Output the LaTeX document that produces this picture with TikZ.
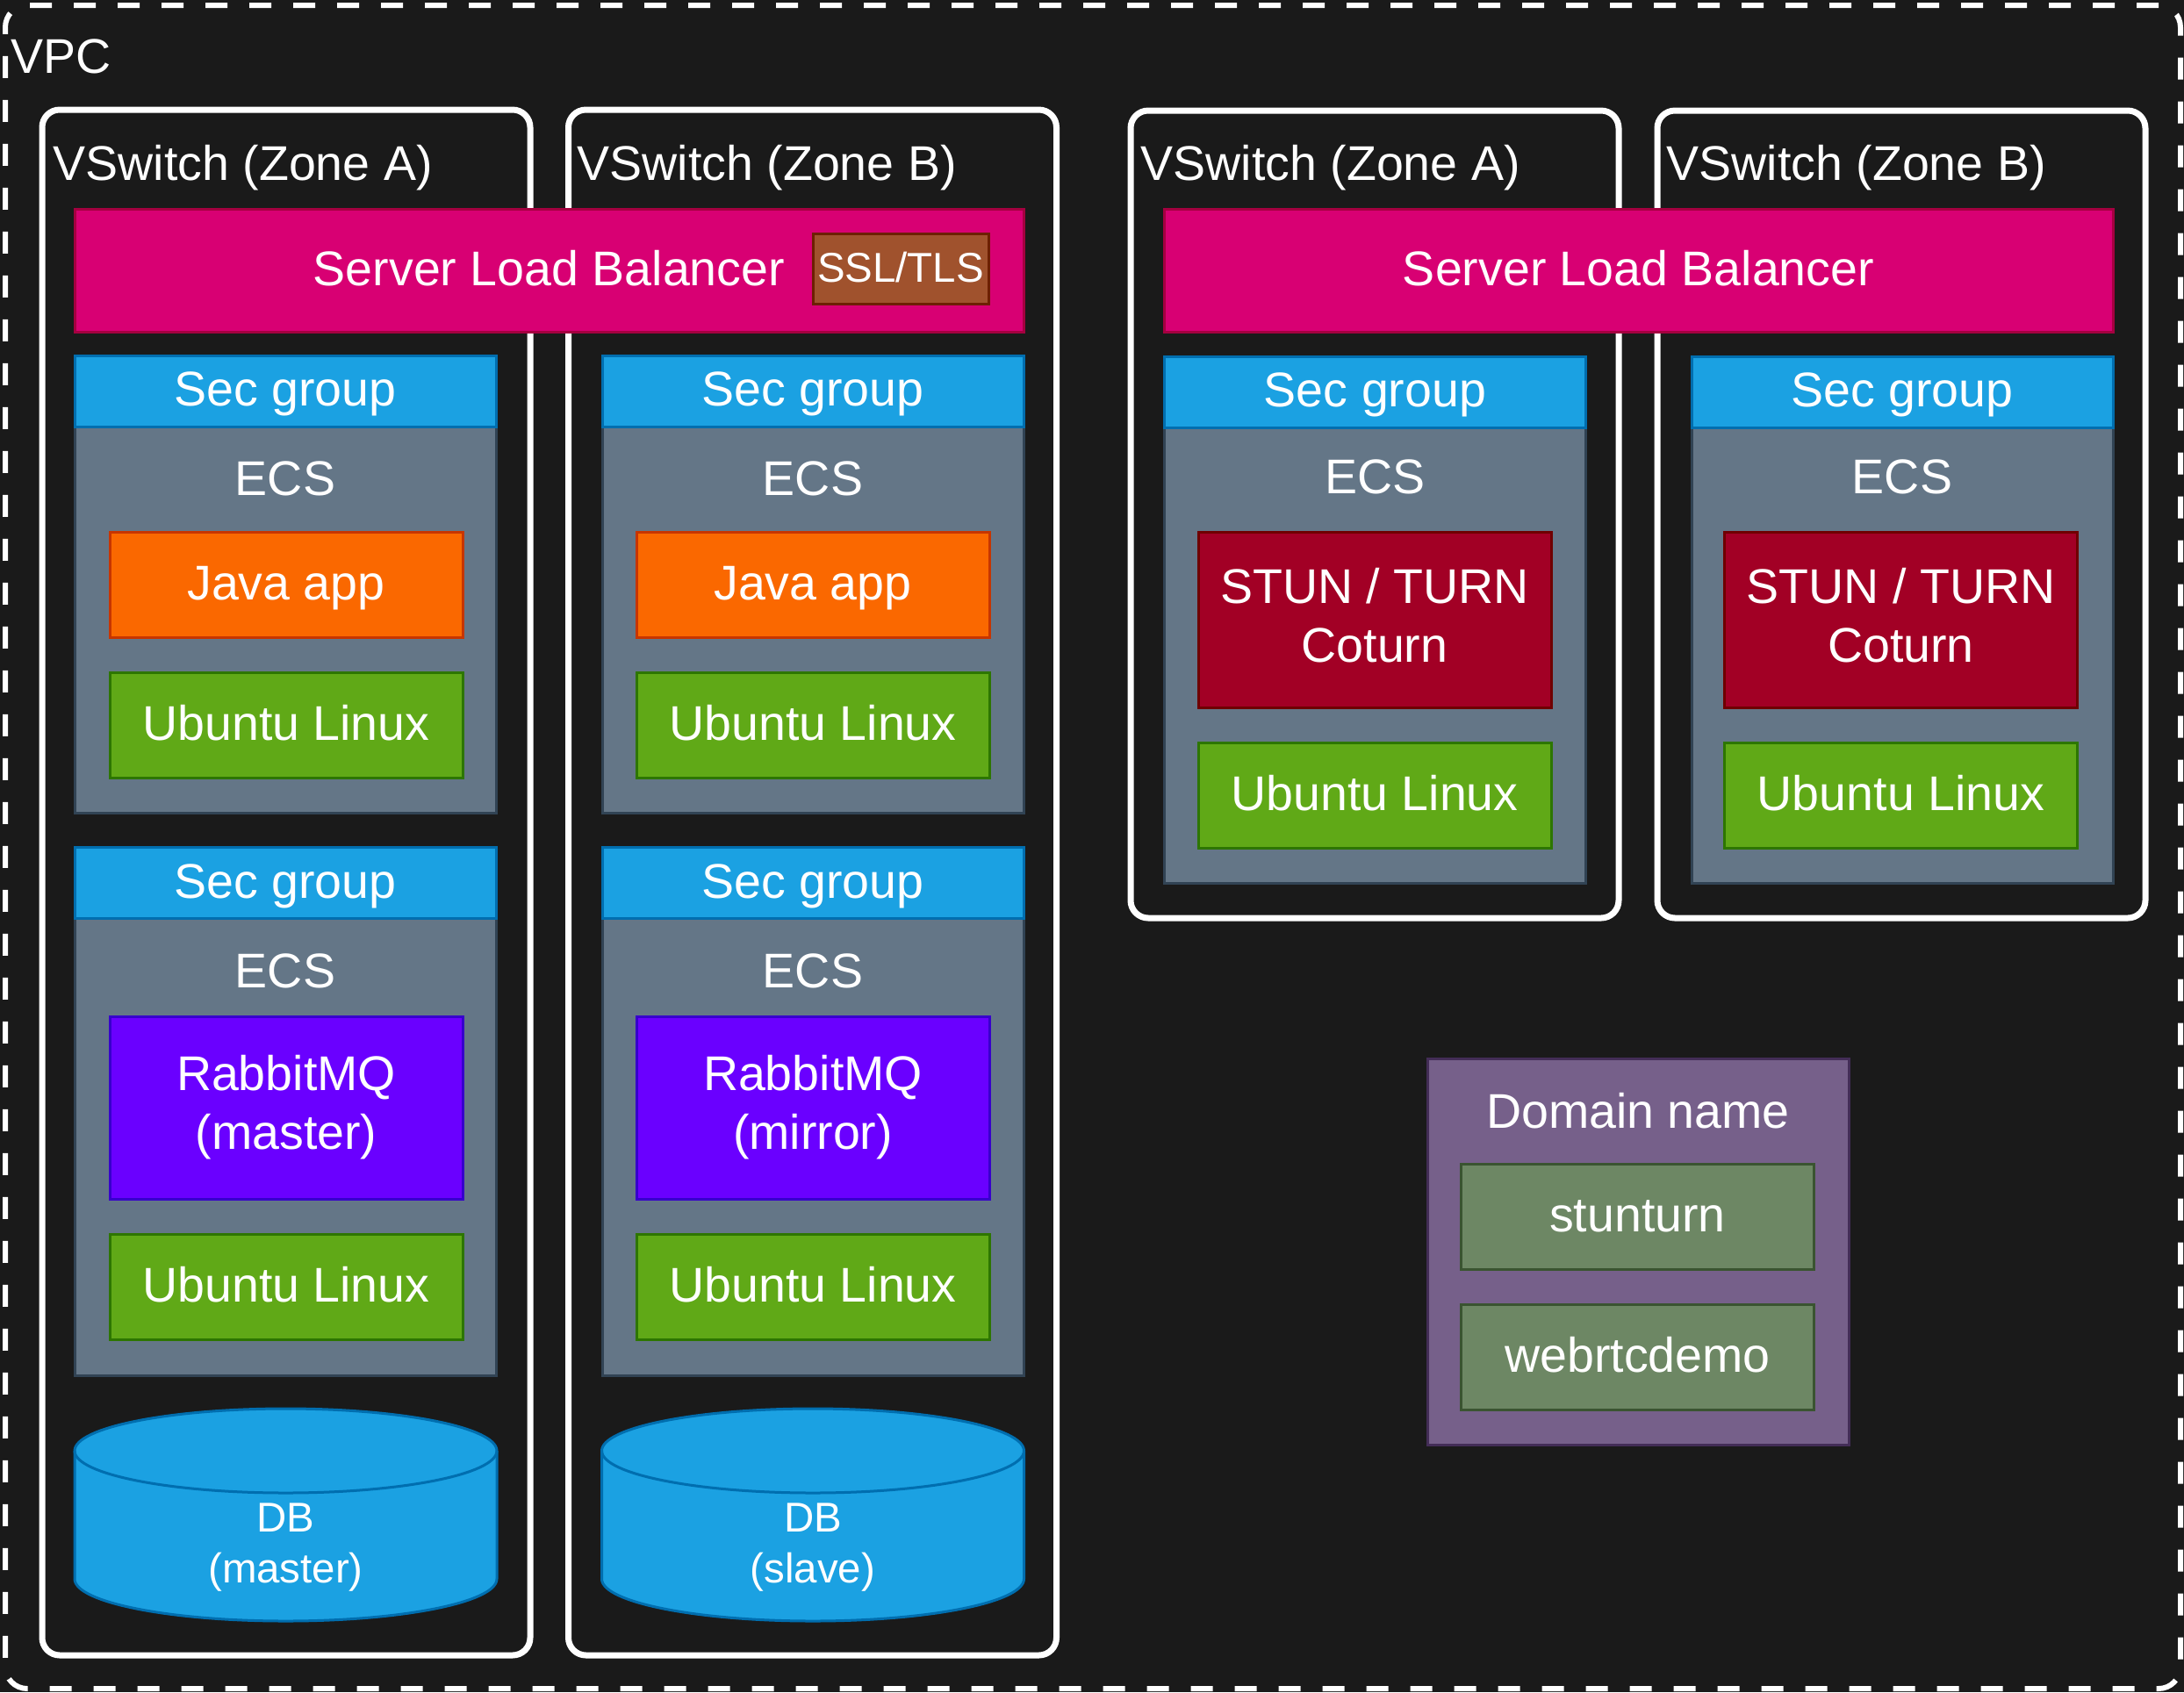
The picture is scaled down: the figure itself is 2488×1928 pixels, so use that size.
\documentclass[tikz,border=0pt]{standalone}
\usepackage{fontspec}
\setmainfont{Liberation Sans}

\definecolor{bgdark}{HTML}{1A1A1A}
\definecolor{slbfill}{HTML}{D80073}
\definecolor{slbline}{HTML}{A50040}
\definecolor{sslfill}{HTML}{A0522D}
\definecolor{sslline}{HTML}{6D1F00}
\definecolor{secfill}{HTML}{1BA1E2}
\definecolor{secline}{HTML}{006EAF}
\definecolor{ecsfill}{HTML}{647687}
\definecolor{ecsline}{HTML}{314354}
\definecolor{javafill}{HTML}{FA6800}
\definecolor{javaline}{HTML}{C73500}
\definecolor{osfill}{HTML}{60A917}
\definecolor{osline}{HTML}{2D7600}
\definecolor{mqfill}{HTML}{6A00FF}
\definecolor{mqline}{HTML}{3700CC}
\definecolor{turnfill}{HTML}{A20025}
\definecolor{turnline}{HTML}{6F0000}
\definecolor{dnsfill}{HTML}{76608A}
\definecolor{dnsline}{HTML}{432D57}
\definecolor{recfill}{HTML}{6D8764}
\definecolor{recline}{HTML}{3A5431}

\begin{document}
\begin{tikzpicture}[x=0.1mm, y=-0.1mm,
    every node/.style={text=white, inner sep=0pt, font=\fontsize{15.8}{19.1}\selectfont},
    caption/.style={text height=5.1mm, text depth=1.1mm},
    boxtext/.style={text height=5.1mm, text depth=1.7mm},
    small/.style={font=\fontsize{13.5}{16.7}\selectfont},
    zone/.style={rectangle, rounded corners=2mm, draw=white, line width=0.7mm, fill=bgdark, minimum width=55.6mm},
    slb/.style={rectangle, draw=slbline, fill=slbfill, line width=0.3mm, minimum width=108.1mm, minimum height=14mm, boxtext},
    secgroup/.style={rectangle, draw=secline, fill=secfill, line width=0.3mm, minimum width=48mm, minimum height=8.1mm, boxtext},
    ecs/.style={rectangle, draw=ecsline, fill=ecsfill, line width=0.3mm, minimum width=48mm},
    block/.style={rectangle, line width=0.3mm, minimum width=40.2mm},
    java/.style={block, draw=javaline, fill=javafill, minimum height=12mm, boxtext},
    os/.style={block, draw=osline, fill=osfill, minimum height=12mm, boxtext},
    mq/.style={block, draw=mqline, fill=mqfill, minimum height=20.8mm, align=center},
    turn/.style={block, draw=turnline, fill=turnfill, minimum height=20mm, align=center, text depth=1mm},
    record/.style={block, draw=recline, fill=recfill, minimum height=12mm, boxtext},
    db/.style={draw=secline, fill=secfill, line width=0.3mm}]

\path[use as bounding box, fill=bgdark] (0,0) rectangle (2488,1928);

% VPC
\node (vpc) at (1245,965) [rectangle, draw=white, line width=0.6mm, dash pattern=on 2.5mm off 2.5mm, rounded corners=2.5mm, minimum width=247.8mm, minimum height=191.8mm] {};
\node (vpclabel) at (12,63) [anchor=west, caption] {VPC};

% vswitches
\node (zoneA1) at (326,1005.5) [zone, minimum height=176.1mm] {};
\node (zoneB1) at (925.5,1005.5) [zone, minimum height=176.1mm] {};
\node (zoneA2) at (1566,586) [zone, minimum height=92mm] {};
\node (zoneB2) at (2166,586) [zone, minimum height=92mm] {};

\node (titleA1) at (60,185) [anchor=west, caption] {VSwitch (Zone A)};
\node (titleB1) at (657,185) [anchor=west, caption] {VSwitch (Zone B)};
\node (titleA2) at (1299,185) [anchor=west, caption] {VSwitch (Zone A)};
\node (titleB2) at (1898,185) [anchor=west, caption] {VSwitch (Zone B)};

% load balancers
\node (slb1) at (625.5,308) [slb] {Server Load Balancer};
\node (ssl) at (1026,306) [rectangle, draw=sslline, fill=sslfill, line width=0.3mm, minimum width=20mm, minimum height=8mm, small, text height=4.4mm, text depth=1.3mm] {SSL/TLS};
\node (slb2) at (1866.5,308.5) [slb] {Server Load Balancer};

% ecs bodies
\node (ecsA1) at (325,706) [ecs, minimum height=44mm] {};
\node (ecsB1) at (926,706) [ecs, minimum height=44mm] {};
\node (ecsA2) at (1566.5,746.5) [ecs, minimum height=51.9mm] {};
\node (ecsB2) at (2167,746.5) [ecs, minimum height=51.9mm] {};
\node (ecsA3) at (325,1306.5) [ecs, minimum height=52.1mm] {};
\node (ecsB3) at (926,1306.5) [ecs, minimum height=52.1mm] {};

% sec groups
\node (secA1) at (325,445.5) [secgroup] {Sec group};
\node (secB1) at (926,445.5) [secgroup] {Sec group};
\node (secA2) at (1566.5,446.5) [secgroup] {Sec group};
\node (secB2) at (2167,446.5) [secgroup] {Sec group};
\node (secA3) at (325,1006) [secgroup] {Sec group};
\node (secB3) at (926,1006) [secgroup] {Sec group};

\node (ecslabelA1) at (325,544) [caption] {ECS};
\node (ecslabelB1) at (926,544) [caption] {ECS};
\node (ecslabelA2) at (1566.5,542) [caption] {ECS};
\node (ecslabelB2) at (2167,542) [caption] {ECS};
\node (ecslabelA3) at (325,1105) [caption] {ECS};
\node (ecslabelB3) at (926,1105) [caption] {ECS};

% software
\node (javaA) at (326,666) [java] {Java app};
\node (javaB) at (926,666) [java] {Java app};
\node (osA1) at (326,826) [os] {Ubuntu Linux};
\node (osB1) at (926,826) [os] {Ubuntu Linux};

\node (mqA) at (326,1262) [mq] {RabbitMQ\\(master)};
\node (mqB) at (926,1262) [mq] {RabbitMQ\\(mirror)};
\node (osA3) at (326,1466) [os] {Ubuntu Linux};
\node (osB3) at (926,1466) [os] {Ubuntu Linux};

\node (turnA) at (1566,706) [turn] {STUN / TURN\\Coturn};
\node (turnB) at (2165.5,706) [turn] {STUN / TURN\\Coturn};
\node (osA2) at (1566,906) [os] {Ubuntu Linux};
\node (osB2) at (2165.5,906) [os] {Ubuntu Linux};

% databases
\foreach \x in {325.5, 926} {
    \filldraw[db] (\x-240.5,1653) -- (\x-240.5,1799) arc[start angle=180, end angle=360, x radius=24.05mm, y radius=4.8mm] -- (\x+240.5,1653) arc[start angle=0, end angle=180, x radius=24.05mm, y radius=4.8mm] -- cycle;
    \draw[db, fill=none] (\x-240.5,1653) arc[start angle=180, end angle=360, x radius=24.05mm, y radius=4.8mm];
}
\node (dbA) at (325.5,1763) [small, align=center] {DB\\(master)};
\node (dbB) at (926,1763) [small, align=center] {DB\\(slave)};

% domain name
\node (dns) at (1866,1426) [rectangle, draw=dnsline, fill=dnsfill, line width=0.3mm, minimum width=48mm, minimum height=44mm] {};
\node (dnslabel) at (1866,1265) [caption] {Domain name};
\node (recA) at (1865.5,1386) [record] {stunturn};
\node (recB) at (1865.5,1546) [record] {webrtcdemo};
\end{tikzpicture}
\end{document}
